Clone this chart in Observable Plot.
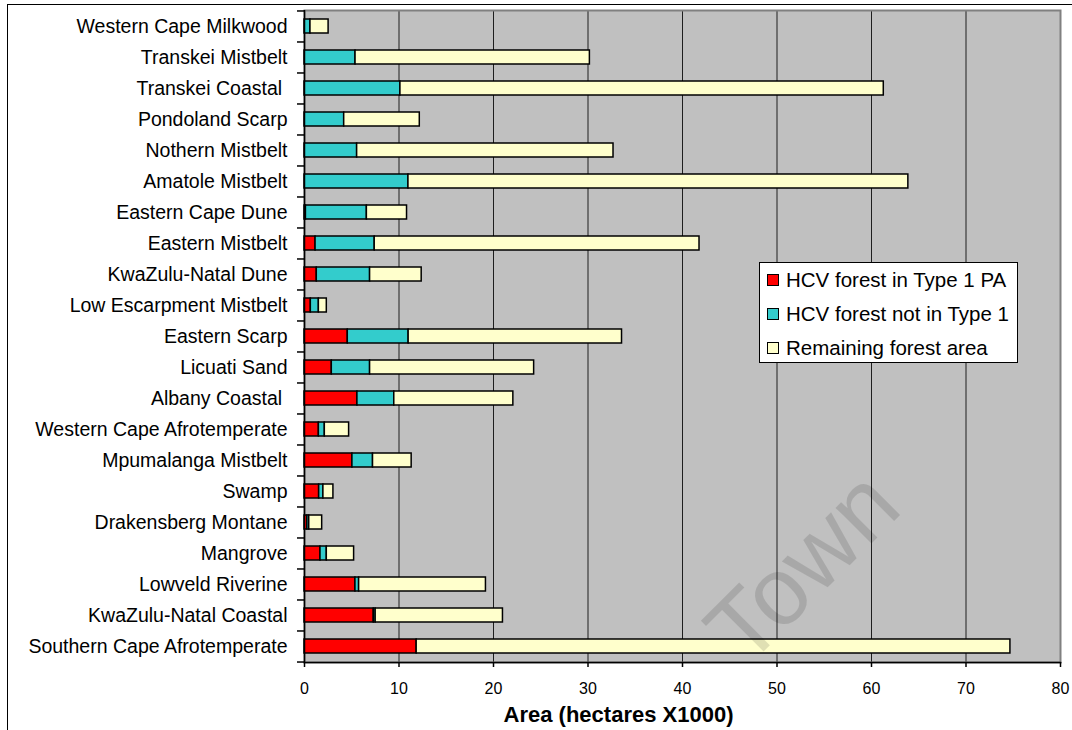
<!DOCTYPE html>
<html>
<head>
<meta charset="utf-8">
<script src="https://cdn.jsdelivr.net/npm/d3@7"></script>
<script src="https://cdn.jsdelivr.net/npm/@observablehq/plot@0.6"></script>
<style>
  html, body { margin: 0; padding: 0; background: #fff; }
  #chart { position: relative; width: 1072px; height: 730px; overflow: hidden;
           font-family: "Liberation Sans", Arial, sans-serif; }
  #chart svg { position: absolute; left: 0; top: 0; }
  .outer { position: absolute; left: 7px; top: 4px; right: -10px; bottom: -10px;
           border-left: 1.5px solid #000; border-top: 1.5px solid #000; pointer-events: none; }
  .legend { position: absolute; left: 759px; top: 262px; width: 259px; height: 101px;
            background: #fff; border: 1px solid #000; box-sizing: border-box; }
  .legend .row { position: absolute; left: 7px; height: 24px; display: flex; align-items: center;
                 font-size: 20.5px; color: #000; white-space: nowrap; }
  .legend .sw { width: 10px; height: 10px; border: 1px solid #000; margin-right: 7px; }
</style>
</head>
<body>
<div id="chart"></div>
<script>
// Forest types, listed top to bottom
const categories = [
  "Western Cape Milkwood",
  "Transkei Mistbelt",
  "Transkei Coastal\u00a0",
  "Pondoland Scarp",
  "Nothern Mistbelt",
  "Amatole Mistbelt",
  "Eastern Cape Dune",
  "Eastern Mistbelt",
  "KwaZulu-Natal Dune",
  "Low Escarpment Mistbelt",
  "Eastern Scarp",
  "Licuati Sand",
  "Albany Coastal\u00a0",
  "Western Cape Afrotemperate",
  "Mpumalanga Mistbelt",
  "Swamp",
  "Drakensberg Montane",
  "Mangrove",
  "Lowveld Riverine",
  "KwaZulu-Natal Coastal",
  "Southern Cape Afrotemperate"
];

// Area in hectares x 1000 for each segment of the stacked bars
const hcvInPA = [0, 0, 0, 0, 0, 0, 0.15, 1.17, 1.3, 0.67, 4.58, 2.89, 5.6, 1.52, 5.07, 1.55, 0.3, 1.69, 5.39, 7.33, 11.87];
const hcvNotInPA = [0.63, 5.4, 10.15, 4.2, 5.57, 11.0, 6.45, 6.26, 5.64, 0.85, 6.44, 4.05, 3.9, 0.63, 2.18, 0.45, 0.2, 0.67, 0.39, 0.2, 0];
const remaining = [1.92, 24.8, 51.15, 8.0, 27.13, 52.9, 4.25, 34.37, 5.46, 0.84, 22.58, 17.36, 12.6, 2.57, 4.09, 1.06, 1.37, 2.89, 13.42, 13.47, 62.83];

const seriesNames = ["HCV forest in Type 1 PA", "HCV forest not in Type 1", "Remaining forest area"];
const seriesColors = ["#ff0000", "#33cccc", "#ffffcc"];
const xTicks = [0, 10, 20, 30, 40, 50, 60, 70, 80];
const gridTicks = [10, 20, 30, 40, 50, 60, 70];
const axisTitle = "Area (hectares X1000)";
const watermark = "Town";

const seriesValues = [hcvInPA, hcvNotInPA, remaining];
const rows = categories.flatMap((cat, i) =>
  seriesNames.map((series, s) => ({cat, series, value: seriesValues[s][i]}))
).filter(d => d.value > 0);

const W = 1072, H = 730;
const mTop = 10, mBottom = 68, mLeft = 304, mRight = 12;
const step = (H - mTop - mBottom) / categories.length;

const chart = Plot.plot({
  width: W,
  height: H,
  marginTop: mTop,
  marginBottom: mBottom,
  marginLeft: mLeft,
  marginRight: mRight,
  style: {fontFamily: "'Liberation Sans', Arial, sans-serif", background: "transparent", overflow: "visible"},
  x: {domain: [0, 80], label: null},
  y: {domain: categories, paddingInner: 0.55, paddingOuter: 0.275, label: null},
  color: {domain: seriesNames, range: seriesColors},
  marks: [
    Plot.frame({fill: "#c0c0c0"}),
    Plot.ruleX(gridTicks, {stroke: "#1e1e1e", strokeWidth: 1}),
    Plot.frame({stroke: "#808080", strokeWidth: 2}),
    Plot.barX(rows, Plot.stackX({
      x: "value", y: "cat", fill: "series", order: seriesNames,
      stroke: "#000", strokeWidth: 1.5
    })),
    Plot.ruleX([0], {stroke: "#000", strokeWidth: 1.5}),
    Plot.frame({anchor: "bottom", stroke: "#000", strokeWidth: 1.5}),
    // category labels, centred in each band
    Plot.axisY({tickSize: 0, tickPadding: 17, fontSize: 19.5, label: null}),
    // tick marks on the band boundaries
    Plot.axisY(categories, {tickSize: 7, tickFormat: () => "", dy: -step / 2, label: null, strokeWidth: 1.5}),
    Plot.axisY(categories.slice(-1), {tickSize: 7, tickFormat: () => "", dy: step / 2, label: null, strokeWidth: 1.5}),
    Plot.axisX({ticks: xTicks, tickSize: 5, tickPadding: 15, fontSize: 16, label: null, strokeWidth: 1.5}),
    Plot.text([axisTitle], {frameAnchor: "bottom", dx: -64, dy: 52, fontSize: 22, fontWeight: "bold", lineAnchor: "middle"}),
    // faint diagonal watermark across the lower right of the plot
    Plot.text([watermark], {frameAnchor: "top-left", dx: 600, dy: 500, rotate: -45, textAnchor: "end",
      lineAnchor: "bottom", fontSize: 96, fill: "#000", fillOpacity: 0.12})
  ]
});

const root = document.getElementById("chart");
root.appendChild(chart);

const outer = document.createElement("div");
outer.className = "outer";
root.appendChild(outer);

// legend box inside the plotting area
const legend = document.createElement("div");
legend.className = "legend";
seriesNames.forEach((name, i) => {
  const row = document.createElement("div");
  row.className = "row";
  row.style.top = (5 + i * 34) + "px";
  const sw = document.createElement("span");
  sw.className = "sw";
  sw.style.background = seriesColors[i];
  const label = document.createElement("span");
  label.textContent = name;
  row.appendChild(sw);
  row.appendChild(label);
  legend.appendChild(row);
});
root.appendChild(legend);
</script>
</body>
</html>
